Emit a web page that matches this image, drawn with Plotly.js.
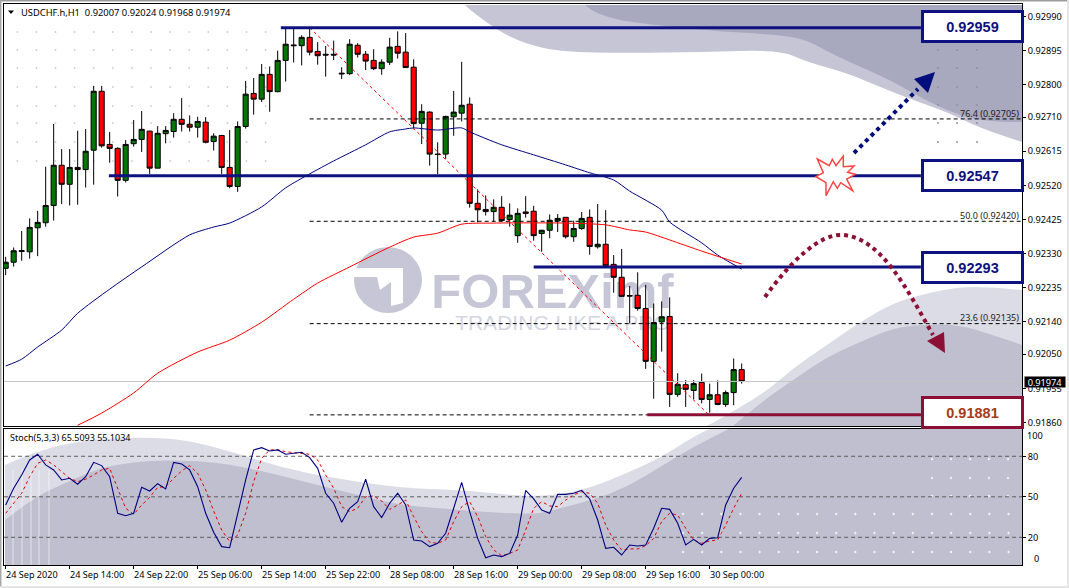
<!DOCTYPE html>
<html><head><meta charset="utf-8">
<script src="https://cdn.plot.ly/plotly-3.0.1.min.js"></script>
<style>html,body{margin:0;padding:0;background:#fff}</style>
</head><body><div id="chart" style="width:1069px;height:588px"></div>
<script>
const W=1069,H=588;
// ---- price data (points, 1e-5) ----
const highPts=[92321,92347,92393,92428,92449,92572,92691,92621,92621,92672,92677,92797,92797,92669,92626,92646,92702,92727,92672,92685,92685,92721,92763,92715,92711,92710,92665,92660,92674,92698,92811,92819,92858,92851,92895,92958,92958,92938,92958,92919,92908,92923,92849,92927,92916,92894,92899,92871,92931,92949,92944,92871,92746,92726,92640,92714,92783,92864,92765,92509,92492,92481,92490,92470,92456,92490,92463,92396,92439,92440,92431,92422,92446,92453,92468,92451,92326,92343,92240,92278,92243,92191,92197,92208,91997,91978,91978,91996,91968,91977,91949,92038,92024];
const lowPts=[92270,92294,92310,92316,92323,92405,92422,92468,92464,92466,92514,92522,92625,92583,92489,92528,92628,92613,92552,92568,92637,92653,92670,92670,92653,92637,92617,92552,92512,92502,92678,92717,92752,92725,92779,92809,92862,92854,92882,92856,92823,92869,92816,92827,92876,92841,92841,92828,92855,92873,92848,92676,92635,92575,92551,92594,92658,92698,92458,92417,92436,92419,92419,92405,92360,92430,92366,92335,92373,92390,92372,92363,92396,92327,92344,92295,92221,92210,92136,92171,92009,91926,92057,91903,91931,91903,91924,91913,91887,91908,91903,91908,91968];
const openPts=[92289,92306,92336,92335,92402,92416,92464,92576,92523,92570,92564,92618,92782,92634,92623,92534,92636,92648,92671,92568,92664,92670,92704,92690,92682,92696,92642,92659,92570,92517,92684,92776,92760,92829,92781,92868,92911,92909,92932,92893,92885,92885,92830,92831,92910,92885,92868,92845,92863,92907,92891,92849,92693,92724,92607,92607,92711,92721,92746,92470,92453,92447,92459,92425,92380,92446,92448,92386,92395,92421,92431,92377,92400,92431,92349,92356,92300,92264,92213,92214,92177,92030,92140,92155,91938,91965,91949,91971,91924,91937,91910,91943,92007];
const closePts=[92306,92338,92338,92403,92417,92464,92576,92523,92570,92564,92615,92782,92630,92623,92534,92634,92648,92676,92568,92665,92673,92704,92690,92682,92698,92640,92657,92570,92517,92684,92774,92760,92829,92781,92868,92913,92909,92932,92891,92881,92883,92883,92832,92913,92885,92866,92845,92863,92905,92888,92848,92692,92726,92607,92606,92712,92724,92743,92470,92452,92447,92459,92422,92437,92442,92442,92380,92395,92423,92428,92377,92400,92428,92350,92356,92296,92264,92211,92212,92177,92030,92138,92154,91938,91966,91952,91968,91924,91937,91910,91943,92007,91974];
// moving averages: [bar index], [points]
const blueMaBars=[0,2,4,7,9,13,17,23,26,28,32,35,38,41,45,48,50,51,54,57,58,62,66,70,73,76,78,82,83,87,89,92];
const blueMaPts=[92017,92036,92070,92117,92164,92231,92293,92382,92404,92415,92460,92513,92552,92588,92633,92669,92677,92680,92674,92680,92669,92633,92605,92577,92555,92535,92504,92451,92418,92360,92326,92287];
const redMaBars=[9,12,16,19,24,28,32,36,39,43,48,51,54,57,61,70,75,78,80,83,87,92];
const redMaPts=[91852,91886,91942,91997,92056,92089,92139,92203,92248,92293,92348,92376,92387,92412,92415,92415,92410,92396,92390,92368,92337,92301];
// stochastic
const stochMain=[43.9,56.3,66.2,77.3,81.5,73.6,69.9,62.5,63.7,59.3,64.9,75.5,73.1,64.9,37.8,36.0,37.8,57.0,54.3,59.7,55.8,75.5,74.3,69.9,57.5,37.8,23.7,13.1,12.3,37.8,62.5,84.7,86.4,83.9,84.7,81.5,82.2,83.0,79.0,71.1,52.6,45.2,31.1,41.5,46.4,63.0,42.7,34.6,45.2,52.6,43.9,18.0,17.3,13.1,15.6,23.0,41.5,60.7,39.0,19.2,4.9,6.9,5.7,8.1,21.7,54.8,48.4,40.2,37.8,51.8,51.8,52.6,54.8,48.4,32.8,11.8,12.6,6.9,14.3,13.6,14.3,26.7,41.5,40.7,30.4,14.3,18.5,14.3,19.2,19.7,43.9,56.3,64.4];
const stochSignal=[37.8,45.2,52.6,64.9,74.8,77.3,73.6,68.6,63.7,61.2,63.0,66.2,69.9,71.1,56.3,41.5,37.0,43.9,49.6,57.0,57.5,63.7,69.1,73.1,67.4,55.1,39.5,25.4,16.8,21.7,37.8,61.2,78.5,84.7,84.9,83.4,82.7,82.2,81.5,77.3,66.2,56.3,42.7,39.0,41.5,50.1,50.6,46.9,40.7,43.9,47.6,35.3,24.2,16.3,15.6,18.0,31.6,42.7,46.4,35.3,20.5,10.6,6.4,8.1,10.6,25.4,41.5,46.4,43.2,42.7,47.6,51.4,53.8,52.6,45.2,29.1,18.0,10.6,11.4,11.4,13.8,19.2,31.6,37.8,36.5,26.7,18.0,15.6,17.3,18.0,29.1,41.5,52.6];
const stochLevels=[80,50,20];
// levels
const levelValues=[0.92959,0.92547,0.92293,0.91881];
const levelStartBars=[34.4,12.9,66,80.2];
const levelLabels=['0.92959','0.92547','0.92293','0.91881'];
const fiboValues=[0.92705,0.92420,0.92135,0.91881];
const fiboLabels=['76.4 (0.92705)','50.0 (0.92420)','23.6 (0.92135)',''];
const trendBars=[38,87.9], trendPrices=[0.92959,0.91881];
const lastPrice=0.91974;
const priceTicks=[0.92990,0.92895,0.92800,0.92710,0.92615,0.92520,0.92425,0.92330,0.92235,0.92140,0.92050,0.91955,0.91860];
const priceTickText=['0.92990','0.92895','0.92800','0.92710','0.92615','0.92520','0.92425','0.92330','0.92235','0.92140','0.92050','0.91955','0.91860'];
const timeBars=[0,8,16,24,32,40,48,56,64,72,80,88];
const timeLabels=['24 Sep 2020','24 Sep 14:00','24 Sep 22:00','25 Sep 06:00','25 Sep 14:00','25 Sep 22:00','28 Sep 08:00','28 Sep 16:00','29 Sep 00:00','29 Sep 08:00','29 Sep 16:00','30 Sep 00:00'];

const FONT='"Noto Sans",sans-serif', NAVY='#0d1280', CRIM='#8c1036';
const bars=highPts.map((_,i)=>i);
const P=a=>a.map(v=>v/1e5);
const px=x=>x/W, py=y=>1-y/H;
const BARS_END=114.4, XMAX=127.04;
const xr=[-0.209,XMAX];
const yr=[0.91850,0.93025];

// ---- decorative helpers (pixel space -> paper) ----
const pt=p=>px(p[0]).toFixed(5)+','+py(p[1]).toFixed(5);
function poly(ps){return 'M'+ps.map(pt).join(' L')+' Z';}
function smooth(edge,tail){ // smoothed open edge then straight closing points
  let d='M'+pt(edge[0]);
  for(let i=1;i<edge.length-1;i++){
    const m=[(edge[i][0]+edge[i+1][0])/2,(edge[i][1]+edge[i+1][1])/2];
    d+=' Q'+pt(edge[i])+' '+pt(m);
  }
  d+=' L'+pt(edge[edge.length-1]);
  tail.forEach(p=>d+=' L'+pt(p));
  return d+' Z';
}
function fillShape(path,color){return {type:'path',xref:'paper',yref:'paper',path,fillcolor:color,line:{width:0},layer:'below'};}
function dots(xs,ys,r){let d='';xs.forEach(x=>ys.forEach(y=>{d+=poly([[x-r,y],[x,y-r],[x+r,y],[x,y+r]]);}));return d;}
function seq(a,n,s){const o=[];for(let k=0;k<n;k++)o.push(a+k*s);return o;}

const LIGHTB='#dcdce6',DARKB='#c0bfd0';
const shapes=[
 // window chrome
 fillShape(poly([[0,0],[W,0],[W,1.5],[0,1.5]]),'#9c9c9c'),
 fillShape(poly([[0,0],[1.5,0],[1.5,H],[0,H]]),'#a8a8a8'),
 fillShape(poly([[0,586],[W,586],[W,H],[0,H]]),'#e6e6e6'),
 fillShape(poly([[1067,0],[W,0],[W,H],[1067,H]]),'#e6e6e6'),
 // main panel swooshes
 fillShape(smooth([[465,5],[470,10],[497,30],[523,43],[560,52],[630,53],[700,52],[780,50],[807,62],[847,73],[880,87],[913,100],[947,112],[980,128],[1022,142]],[[1022,5]]),'#c5c5d6'),
 fillShape(smooth([[585,5],[590,10],[610,18],[630,22],[700,30],[780,35],[807,40],[830,53],[863,68],[890,80],[920,97],[940,107],[967,118],[997,122],[1022,122]],[[1022,5]]),'#a8a8bf'),
 fillShape(smooth([[707,426],[760,397],[793,368],[827,345],[860,322],[893,303],[927,293],[960,287],[987,287],[1022,290]],[[1022,426]]),LIGHTB),
 fillShape(smooth([[733,426],[760,403],[793,380],[827,357],[860,342],[893,328],[927,324],[960,325],[993,335],[1022,345]],[[1022,426]]),DARKB),
 // lower panel swooshes
 fillShape(smooth([[5,465],[33,452],[83,440],[143,437],[187,440],[233,452],[283,468],[333,478],[400,488],[460,490],[500,494],[527,496],[560,495],[593,487],[627,473],[660,458],[693,437],[707,430],[710,429]],[[1022,429],[1022,565],[5,565]]),LIGHTB),
 fillShape(smooth([[5,520],[33,498],[67,482],[100,468],[133,462],[167,460],[217,462],[267,472],[317,485],[367,497],[400,505],[460,510],[500,513],[540,514],[560,508],[593,500],[627,487],[660,467],[693,447],[727,430],[728,429]],[[1022,429],[1022,565],[5,565]]),DARKB),
 // dot grids
 fillShape(dots(seq(17.3,14,19.1),[32,50,68,87,106,123,142,161],1.2),'#cfcfdd'),
 fillShape(dots([938,957,977],[50,68,87,105,123,142],1.2),'#8f8fa3'),
 fillShape(dots([932,951,970,989,1008],[459,478,496],1.4),'#f4f4f8'),
 fillShape(dots(seq(683,18,19.15),[514,533,552],1.4),'#f4f4f8'),
 // watermark logo
 {type:'circle',xref:'paper',yref:'paper',x0:px(354),x1:px(422),y0:py(247),y1:py(313),fillcolor:'#c6c6d6',line:{width:0},layer:'below'},
 fillShape(poly([[354,268],[403,268],[403,303],[391,306],[391,282],[380,290],[377,277],[354,277]]),'#ffffff'),
 {type:'rect',xref:'paper',yref:'paper',x0:px(425),x1:px(680),y0:py(262),y1:py(310),line:{width:0},layer:'below',
  label:{text:'FOREXimf',textposition:'middle center',font:{family:'"Liberation Sans",sans-serif',size:49,color:'#c6c6d6',weight:700}}},
 {type:'rect',xref:'paper',yref:'paper',x0:px(455),x1:px(670),y0:py(308),y1:py(332),line:{width:0},layer:'below',
  label:{text:'TRADING LIKE A PRO',textposition:'middle center',font:{family:'"Liberation Sans",sans-serif',size:21,color:'#d6d6e2'}}},
 // title triangle
 {type:'path',xref:'paper',yref:'paper',path:poly([[8,10.5],[14,10.5],[11,14]]),fillcolor:'#000',line:{width:0},layer:'above'},
 // arrows and burst
 {type:'path',xref:'paper',yref:'paper',path:'M'+pt([854,153])+' L'+pt([918,89]),line:{color:'#000d7a',width:4,dash:'4px,4px'},layer:'above'},
 {type:'path',xref:'paper',yref:'paper',path:'M'+pt([765,297])+' C'+pt([790,262])+' '+pt([820,233])+' '+pt([843,235])+' C'+pt([880,238])+' '+pt([905,285])+' '+pt([933,335]),line:{color:CRIM,width:4,dash:'4px,4px'},layer:'above'},
 {type:'path',xref:'paper',yref:'paper',path:poly([[817.3,159],[829.3,165.7],[832.3,159.3],[836,165.7],[843.3,156],[843.3,166.7],[854,166],[847.7,172.3],[855.3,174.3],[846.7,179],[852.7,190.7],[840.7,182.7],[837.3,188.3],[833.3,181.7],[826,195.7],[826,182.7],[816,176.7],[823.3,172.7]]),fillcolor:'#fff',line:{color:'#ff4545',width:1.5},layer:'above'},
];
shapes.push(Object.assign(fillShape(poly([[944,332],[927,341],[945,353]]),CRIM),{layer:'above'}));
shapes.push(Object.assign(fillShape(poly([[935,72],[914,79],[928,93]]),'#000d7a'),{layer:'above'}));
[13,22,31,39,49].forEach(x=>shapes.push({type:'line',xref:'paper',yref:'paper',x0:px(x),x1:px(x),y0:py(470),y1:py(565),line:{color:'rgba(255,255,255,0.55)',width:1},layer:'below'}));

// ---- traces ----
const traces=[];
traces.push({type:'candlestick',x:bars,open:P(openPts),high:P(highPts),low:P(lowPts),close:P(closePts),xaxis:'x',yaxis:'y',
  increasing:{line:{color:'#000',width:1},fillcolor:'#007700'},decreasing:{line:{color:'#000',width:1},fillcolor:'#ff0000'},whiskerwidth:0,hoverinfo:'skip'});
const line=(x,y,c,w,dash,ax,sh)=>({type:'scatter',mode:'lines',x,y,xaxis:ax?'x2':'x',yaxis:ax?'y2':'y',line:{color:c,width:w,dash:dash||'solid',shape:sh||'linear',smoothing:sh?0.7:undefined},hoverinfo:'skip'});
traces.push(line([-0.2,XMAX],[lastPrice,lastPrice],'#c4c4c4',1));
fiboValues.forEach(v=>traces.push(line([38,XMAX],[v,v],'#000',1,'4px,3px')));
traces.push(line(blueMaBars,P(blueMaPts),'#000080',1,'solid',0,'spline'));
traces.push(line(redMaBars,P(redMaPts),'#ff0000',1,'solid',0,'spline'));
traces.push(line(trendBars,trendPrices,'#ff0000',1,'3px,3px'));
levelValues.forEach((v,i)=>traces.push(line([levelStartBars[i],BARS_END],[v,v],i==3?CRIM:NAVY,3)));
stochLevels.forEach(v=>traces.push(line([-0.2,XMAX],[v,v],'#5c5c5c',1,'4px,3px',1)));
traces.push(line(bars,stochSignal,'#e00000',1,'3px,3px',1));
traces.push(line(bars,stochMain,'#000080',1.1,'solid',1));

// ---- annotations ----
const AF=(s,c)=>({family:FONT,size:s||9.2,color:c||'#000'});
const ann=[];
const A=(x,y,text,o)=>ann.push(Object.assign({xref:'paper',yref:'paper',x:px(x),y:py(y),text,showarrow:false,xanchor:'left',yanchor:'middle',font:AF(),borderpad:0},o||{}));
A(20,12.5,'USDCHF.h,H1  0.92007 0.92024 0.91968 0.91974',{font:AF(9.35)});
A(9,437,'Stoch(5,3,3) 65.5093 55.1034',{font:AF(9)});
fiboLabels.forEach((t,i)=>{if(t)A(1020,[113,215,317][i],t,{xanchor:'right',font:AF(9,'#222')});});
timeLabels.forEach((t,i)=>ann.push({xref:'x2',yref:'paper',x:timeBars[i]-0.12,y:py(574.5),text:t,showarrow:false,xanchor:'left',yanchor:'middle',font:AF(9.1),borderpad:0,align:'left'}));
A(1026,435.7,'100');A(1033,558,'0');
A(1023.5,381.5,'0.91974',{bgcolor:'#000',font:AF(9.2,'#fff'),width:40,height:10,align:'center'});
const boxTops=[10,159,251,396], boxC=[NAVY,NAVY,NAVY,CRIM], boxT=['#10107a','#10107a','#10107a','#a83a14'];
levelLabels.forEach((t,i)=>ann.push({xref:'paper',yref:'paper',x:px(921),y:py(boxTops[i]),xanchor:'left',yanchor:'top',text:'<b>'+t+'</b>',showarrow:false,
  width:97,height:27,bgcolor:'#fff',bordercolor:boxC[i],borderwidth:3,borderpad:0,align:'center',valign:'middle',font:{family:'"Liberation Sans",sans-serif',size:14.5,color:boxT[i]}}));

const layout={width:W,height:H,margin:{l:0,r:0,t:0,b:0,pad:0},paper_bgcolor:'#fff',plot_bgcolor:'rgba(0,0,0,0)',showlegend:false,hovermode:false,
 boxgap:0.2,boxgroupgap:0.2,
 xaxis:{domain:[px(4),px(1022)],range:xr,anchor:'y',showgrid:false,zeroline:false,showline:true,mirror:true,linecolor:'#000',linewidth:1,ticks:'',showticklabels:false,rangeslider:{visible:false},type:'linear'},
 yaxis:{domain:[py(426),py(4)],range:yr,anchor:'x',side:'right',showgrid:false,zeroline:false,showline:true,mirror:true,linecolor:'#000',linewidth:1,ticks:'outside',ticklen:3,tickcolor:'#000',tickvals:priceTicks,ticktext:priceTickText,tickfont:AF(9.2)},
 xaxis2:{domain:[px(4),px(1022)],range:xr,anchor:'y2',showgrid:false,zeroline:false,showline:true,mirror:true,linecolor:'#000',linewidth:1,ticks:'outside',ticklen:3,tickcolor:'#000',tickvals:timeBars,showticklabels:false,type:'linear'},
 yaxis2:{domain:[py(565),py(429)],range:[-0.5,100.2],anchor:'x2',side:'right',showgrid:false,zeroline:false,showline:true,mirror:true,linecolor:'#000',linewidth:1,ticks:'outside',ticklen:3,tickcolor:'#000',tickvals:stochLevels,tickfont:AF(9.2)},
 shapes,annotations:ann};
Plotly.newPlot('chart',traces,layout,{staticPlot:true,displayModeBar:false});
</script></body></html>
